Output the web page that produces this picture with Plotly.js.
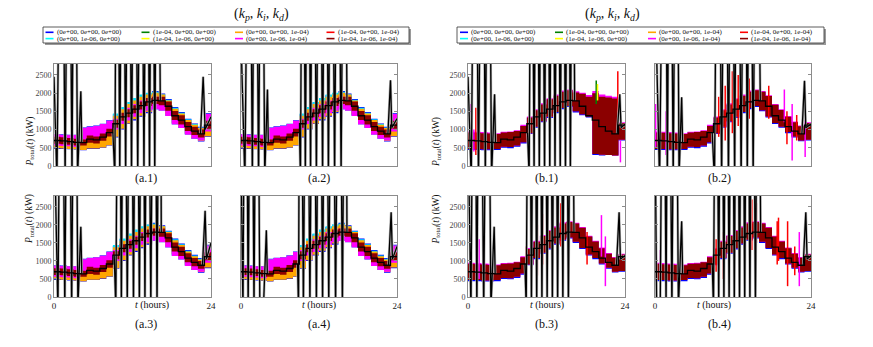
<!DOCTYPE html>
<html>
<head>
<meta charset="utf-8">
<script src="https://cdn.plot.ly/plotly-3.0.1.min.js"></script>
<style>
  html, body { margin: 0; padding: 0; background: #fff; }
  #chart { width: 873px; height: 347px; }
</style>
</head>
<body>
<div id="chart"></div>
<script>
// ---- data (kW, hourly blocks 0..23) ----
const hours = [0,1,2,3,4,5,6,7,8,9,10,11,12,13,14,15,16,17,18,19,20,21,22,23,24];
const refLoad = [700,690,670,650,640,740,715,790,915,1160,1350,1450,1560,1660,1760,1800,1790,1640,1380,1260,1080,960,880,1120];

// (a) panels: envelope of the colored runs
const aBlueLo    = [470,470,460,450,430,470,470,500,560,780,1000,1150,1250,1350,1450,1560,1560,1400,1170,1050,880,750,670,800];
const aBlueHi    = [880,870,860,860,1060,1090,1110,1160,1260,1420,1600,1740,1850,1940,2000,2060,1990,1840,1620,1480,1300,1170,1080,1450];
const aCyanHi    = [870,860,850,850,1050,1080,1100,1150,1250,1440,1620,1760,1870,1960,2010,2040,1970,1820,1600,1460,1280,1150,1060,1430];
const aOrangeLo  = [490,480,470,460,440,480,480,510,570,800,1020,1170,1280,1380,1480,1580,1580,1420,1190,1070,900,770,690,820];
const aOrangeHi  = [860,850,840,830,860,900,890,950,1080,1380,1560,1700,1800,1900,1960,2010,1960,1800,1570,1440,1260,1130,1040,1380];
const aMagentaLo = [560,550,540,520,720,800,780,850,970,1000,1150,1250,1350,1450,1520,1560,1520,1370,1140,1040,860,750,700,950];
const aMagentaHi = [870,860,850,850,1050,1080,1100,1150,1250,1300,1450,1600,1700,1800,1850,1900,1790,1640,1380,1260,1080,960,880,1430];
const aCoreLo    = [610,600,580,560,560,640,620,690,810,1050,1240,1340,1450,1550,1650,1700,1670,1520,1260,1140,960,850,780,1020];
const aCoreHi    = [800,790,770,750,730,840,810,890,1020,1270,1460,1560,1670,1770,1870,1900,1900,1770,1510,1390,1210,1080,1000,1240];

// (b) panels
const bBlueLo    = [440,440,430,430,440,500,490,530,620,880,1050,1200,1320,1450,1560,1620,1500,1330,1150,1050,900,780,680,700];
const bMagentaHi = [950,940,930,920,900,940,950,980,1130,1360,1560,1720,1860,1960,2070,2100,2060,1940,1700,1560,1370,1220,1110,1200];
const bCoreLo    = [470,470,460,460,470,530,520,560,650,900,1080,1230,1350,1480,1590,1650,1530,1360,1180,1080,930,810,700,720];
const bCoreHi    = [920,910,900,890,880,920,930,960,1100,1330,1530,1690,1830,1930,2040,2080,2040,1920,1680,1540,1350,1200,1090,1180];
const b1BlueLo   = [440,440,430,430,440,500,490,530,620,880,1050,1200,1320,1450,1560,1620,1470,1390,1330,300,290,300,290,700];
const b1MagentaHi= [950,940,930,920,900,940,950,980,1130,1360,1560,1720,1860,1960,2070,2100,2050,2010,1950,2060,1960,1930,1900,1200];
const b1CoreLo   = [470,470,460,460,470,530,520,560,650,900,1080,1230,1350,1480,1590,1650,1500,1420,1360,330,310,300,290,720];
const b1CoreHi   = [920,910,900,890,880,920,930,960,1100,1330,1530,1690,1830,1930,2040,2080,2020,1980,1900,2000,1900,1880,1850,1180];

// unstable (oscillating) run in each panel, null = gap
const a1OscT = [0,0.45,1.15,1.7,2.25,2.75,3.15,3.6,4.1,4.25,null,9.0,9.3,9.65,10.05,10.5,10.95,11.4,11.85,12.3,12.8,13.3,13.75,14.2,14.6,15.0,15.4,15.8,16.25,null,22.4,22.8,23.1,24];
const a1OscP = [2450,-400,12000,-400,12000,-400,12000,-300,2050,640,null,915,-300,12000,-300,12000,-300,12000,-300,12000,-300,12000,-300,12000,-300,12000,-300,12000,1790,null,880,2450,1000,1350];
const a2OscT = [0,0.6,1.25,1.75,2.2,2.7,3.2,3.65,4.07,4.2,null,9.0,9.15,9.5,9.9,10.3,10.7,11.1,11.6,12.1,12.55,13.0,13.45,13.9,14.4,14.9,15.4,15.9,16.3,null,22.6,23.0,23.2,24];
const a2OscP = [3500,-400,12000,-400,12000,-400,12000,-300,2100,640,null,915,-300,12000,-300,12000,-300,12000,-300,12000,-300,12000,-300,12000,-300,12000,-300,12000,1790,null,880,2350,1050,1300];
const a3OscT = [0,0.6,1.13,1.65,2.16,2.7,3.2,3.65,4.1,4.25,null,9.2,9.45,9.9,10.3,10.7,11.2,11.7,12.15,12.6,13.05,13.5,13.9,14.3,14.8,15.3,15.75,16.2,16.4,null,22.7,23.1,23.3,24];
const a3OscP = [5000,-400,12000,-400,12000,-400,12000,-300,1950,640,null,1160,-300,12000,-300,12000,-300,12000,-300,12000,-300,12000,-300,12000,-300,12000,-300,12000,1790,null,880,2390,1050,1500];
const a4OscT = [0,0.3,0.7,1.1,1.55,2.0,2.45,2.9,3.45,3.9,4.05,null,8.7,8.85,9.1,9.6,10.1,10.6,11.1,11.6,12.1,12.55,13.0,13.5,14.0,14.55,15.1,15.6,16.1,16.3,null,22.7,23.1,23.3,24];
const a4OscP = [4000,-400,12000,-400,12000,-400,12000,-400,-300,1850,640,null,915,-300,12000,-300,12000,-300,12000,-300,12000,-300,12000,-300,12000,-300,12000,-300,12000,1790,null,880,2350,1050,1400];
const b1OscT = [0,0.5,1.07,1.6,2.2,2.65,3.1,3.6,4.06,4.2,null,9.1,9.35,9.7,10.1,10.5,10.9,11.3,11.7,12.1,12.5,12.9,13.3,13.7,14.1,14.5,14.9,15.3,15.65,16.0,16.3,null,22.8,23.2,23.4,24];
const b1OscP = [2450,-400,12000,-400,12000,-400,12000,-300,1970,640,null,915,-300,12000,-300,12000,-300,12000,-300,12000,-300,12000,-300,12000,-300,12000,-300,12000,-300,12000,1790,null,880,1970,1050,1150];
const b2OscT = [0,0.7,1.5,1.9,2.3,2.8,3.3,3.7,4.1,4.25,null,8.8,9.15,9.7,10.25,10.8,11.3,11.8,12.25,12.7,13.25,13.8,14.2,14.6,15.1,15.6,16.2,null,22.6,23.0,23.2,24];
const b2OscP = [5000,-400,12000,-400,12000,-400,12000,-300,1885,640,null,915,-400,12000,-400,12000,-400,12000,-400,12000,-400,12000,-400,12000,-400,12000,1790,null,880,2340,1050,1150];
const b3OscT = [0,0.45,0.95,1.35,1.8,2.4,3.0,3.5,4.0,4.15,null,8.7,8.9,9.3,9.7,10.1,10.5,10.9,11.3,11.7,12.1,12.5,12.9,13.3,13.7,14.1,14.5,14.9,15.35,15.8,16.2,null,22.7,23.1,23.3,24];
const b3OscP = [5000,-400,12000,-400,12000,-400,12000,-300,1950,640,null,915,-300,12000,-300,12000,-300,12000,-300,12000,-300,12000,-300,12000,-300,12000,-300,12000,-300,12000,1790,null,880,2350,1050,1150];
const b4OscT = [0,0.26,0.8,1.3,1.7,2.06,2.6,3.1,3.6,4.1,4.25,null,8.8,9.0,9.4,9.8,10.2,10.6,11.0,11.4,11.8,12.2,12.6,13.0,13.4,13.8,14.2,14.6,15.0,15.45,15.9,16.25,null,22.8,23.2,23.4,24];
const b4OscP = [5000,-400,-400,12000,-400,12000,-400,12000,-300,2100,640,null,915,-300,12000,-300,12000,-300,12000,-300,12000,-300,12000,-300,12000,-300,12000,-300,12000,-300,12000,1790,null,880,2350,1050,1150];

// isolated spikes of single runs in the (b) panels
const b1SpikeT  = [0.4,0.9,1.2,19.6,19.8,22.9,23.3];
const b1SpikeLo = [500,400,300,1700,1800,900,100];
const b1SpikeHi = [1700,1000,1600,2350,2250,2600,700];
const b1SpikeC  = ['#ff00ff','#ff00ff','#ff0000','#008000','#ffff00','#ff0000','#ff00ff'];
const b2SpikeT  = [0.1,1.7,9.8,10.8,11.9,12.8,14.5,17.5,19.9,20.3,21.1,21.8,23.1];
const b2SpikeLo = [500,300,800,700,900,1100,1300,1300,1200,600,150,700,250];
const b2SpikeHi = [1700,1500,1900,2200,2600,2500,2400,2200,2100,1500,1700,1400,1250];
const b2SpikeC  = ['#ff00ff','#ff00ff','#ff0000','#ff0000','#ff0000','#ff0000','#ff0000','#ff0000','#ff00ff','#ff0000','#ff00ff','#ff0000','#ff00ff'];
const b3SpikeT  = [0.5,1.7,8.9,9.6,10.6,11.4,12.8,14.2,18.2,20.4,21.0];
const b3SpikeLo = [570,500,500,700,600,900,1200,1400,900,1120,300];
const b3SpikeHi = [1770,1600,1400,1800,2000,2300,2500,2600,1800,2270,1680];
const b3SpikeC  = ['#ff00ff','#ff00ff','#ff0000','#ff0000','#ff0000','#ff0000','#ff0000','#ff0000','#ff0000','#ff00ff','#ff00ff'];
const b4SpikeT  = [0.8,9.4,10.5,12.2,13.8,14.9,15.6,18.8,19.0,20.4,21.5,22.2];
const b4SpikeLo = [700,700,500,800,1000,1300,1500,900,1000,300,600,300];
const b4SpikeHi = [1300,1600,1800,2300,2400,2700,2600,2100,2200,2100,1400,1800];
const b4SpikeC  = ['#ff00ff','#ff0000','#ff0000','#ff0000','#ff0000','#ff0000','#ff0000','#ff0000','#ff0000','#ff0000','#ff0000','#ff00ff'];

// legend
const seriesNames  = ['(0e+00, 0e+00, 0e+00)','(1e-04, 0e+00, 0e+00)','(0e+00, 0e+00, 1e-04)','(1e-04, 0e+00, 1e-04)',
                      '(0e+00, 1e-06, 0e+00)','(1e-04, 1e-06, 0e+00)','(0e+00, 1e-06, 1e-04)','(1e-04, 1e-06, 1e-04)'];
const seriesColors = ['#0000ff','#008000','#ffa500','#ff0000','#00ffff','#ffff00','#ff00ff','#8b0000'];

const panelLabels = ['(a.1)','(a.2)','(b.1)','(b.2)','(a.3)','(a.4)','(b.3)','(b.4)'];

// ---- layout geometry (pixels) ----
const W = 873, H = 347;
const FONT = 'Liberation Serif, DejaVu Serif, serif';
const px = v => v / W;
const py = v => 1 - v / H;
const colX = [[54, 211], [241, 397], [468, 625], [655, 811]];
const rowY = [[64, 166], [196, 297]];

const step = v => v.concat([v[v.length - 1]]);

let traces = [];
let layout = {
  width: W, height: H,
  margin: {l: 0, r: 0, t: 0, b: 0},
  paper_bgcolor: '#fff', plot_bgcolor: '#fff',
  showlegend: false,
  font: {family: FONT, color: '#222'},
  shapes: [], annotations: []
};

function band(ax, lo, hi, color) {
  traces.push({x: hours, y: step(lo), xaxis: 'x' + ax, yaxis: 'y' + ax, mode: 'lines',
    line: {width: 0, shape: 'hv'}, hoverinfo: 'skip'});
  traces.push({x: hours, y: step(hi), xaxis: 'x' + ax, yaxis: 'y' + ax, mode: 'lines',
    line: {width: 0, shape: 'hv'}, fill: 'tonexty', fillcolor: color, hoverinfo: 'skip'});
}

function spikes(ax, T, lo, hi, C) {
  for (let i = 0; i < T.length; i++) {
    traces.push({x: [T[i], T[i]], y: [lo[i], hi[i]], xaxis: 'x' + ax, yaxis: 'y' + ax,
      mode: 'lines', line: {color: C[i], width: 1.5}, hoverinfo: 'skip'});
  }
}

function osc(ax, T, P) {
  traces.push({x: T, y: P, xaxis: 'x' + ax, yaxis: 'y' + ax, mode: 'lines',
    line: {color: '#b4b4b4', width: 2.6}, hoverinfo: 'skip'});
  traces.push({x: T, y: P, xaxis: 'x' + ax, yaxis: 'y' + ax, mode: 'lines',
    line: {color: '#000', width: 1.3}, hoverinfo: 'skip'});
}

function ref(ax) {
  traces.push({x: hours, y: step(refLoad), xaxis: 'x' + ax, yaxis: 'y' + ax, mode: 'lines',
    line: {color: '#000', width: 1.3, shape: 'hv'}, hoverinfo: 'skip'});
}

function aPanel(ax, oscT, oscP) {
  band(ax, aBlueLo, aBlueHi, '#0000ff');
  band(ax, aMagentaLo, aCyanHi, '#00e5ff');
  band(ax, aOrangeLo, aOrangeHi, '#ffa500');
  band(ax, aMagentaLo, aMagentaHi, '#ff00ff');
  band(ax, aCoreLo, aCoreHi, '#8b0000');
  osc(ax, oscT, oscP);
  ref(ax);
}

function bPanel(ax, blueLo, magHi, coreLo, coreHi, oscT, oscP, sT, sLo, sHi, sC) {
  band(ax, blueLo, coreHi, '#0000ff');
  band(ax, coreLo, magHi, '#ff00ff');
  band(ax, coreLo, coreHi, '#8b0000');
  spikes(ax, sT, sLo, sHi, sC);
  osc(ax, oscT, oscP);
  ref(ax);
}

aPanel(1, a1OscT, a1OscP);
aPanel(2, a2OscT, a2OscP);
bPanel(3, b1BlueLo, b1MagentaHi, b1CoreLo, b1CoreHi, b1OscT, b1OscP, b1SpikeT, b1SpikeLo, b1SpikeHi, b1SpikeC);
bPanel(4, bBlueLo, bMagentaHi, bCoreLo, bCoreHi, b2OscT, b2OscP, b2SpikeT, b2SpikeLo, b2SpikeHi, b2SpikeC);
aPanel(5, a3OscT, a3OscP);
aPanel(6, a4OscT, a4OscP);
bPanel(7, bBlueLo, bMagentaHi, bCoreLo, bCoreHi, b3OscT, b3OscP, b3SpikeT, b3SpikeLo, b3SpikeHi, b3SpikeC);
bPanel(8, bBlueLo, bMagentaHi, bCoreLo, bCoreHi, b4OscT, b4OscP, b4SpikeT, b4SpikeLo, b4SpikeHi, b4SpikeC);

// axes
for (let i = 0; i < 8; i++) {
  const ax = i + 1, col = i % 4, row = Math.floor(i / 4);
  const cx = colX[col], ry = rowY[row];
  const sfx = ax === 1 ? '' : String(ax);
  const leftOfPair = col === 0 || col === 2;
  layout['xaxis' + sfx] = {
    domain: [px(cx[0]), px(cx[1])], anchor: 'y' + sfx, range: [0, 24],
    showgrid: false, zeroline: false, showline: true, mirror: true,
    linecolor: '#8c8c8c', linewidth: 1,
    ticks: 'inside', ticklen: 3, tickcolor: '#8c8c8c',
    tickvals: [0, 24], showticklabels: row === 1,
    tickfont: {size: 9, family: FONT, color: '#222'}, fixedrange: true
  };
  layout['yaxis' + sfx] = {
    domain: [py(ry[1]), py(ry[0])], anchor: 'x' + sfx, range: [0, 2800],
    showgrid: false, zeroline: false, showline: true, mirror: 'allticks',
    linecolor: '#8c8c8c', linewidth: 1,
    ticks: 'inside', ticklen: 3, tickcolor: '#8c8c8c',
    tickvals: [0, 500, 1000, 1500, 2000, 2500], showticklabels: leftOfPair,
    tickfont: {size: 8, family: FONT, color: '#444'}, fixedrange: true
  };
  // panel label
  layout.annotations.push({xref: 'paper', yref: 'paper', x: px((cx[0] + cx[1]) / 2), y: py(row === 0 ? 178 : 333),
    text: panelLabels[i], showarrow: false, font: {size: 12, family: FONT, color: '#111'}});
  if (row === 1) {
    layout.annotations.push({xref: 'paper', yref: 'paper', x: px((cx[0] + cx[1]) / 2), y: py(313),
      text: '<i>t</i> (hours)', showarrow: false, font: {size: 10, family: FONT, color: '#111'}});
  }
  if (leftOfPair) {
    layout.annotations.push({xref: 'paper', yref: 'paper', x: px(cx[0] - 32), y: py((ry[0] + ry[1]) / 2),
      text: '<i>P</i><sub>total</sub>(<i>t</i>) (kW)', textangle: -90, showarrow: false,
      font: {size: 9.5, family: FONT, color: '#111'}});
  }
}

// titles and hand-built legends
const titleX = [232, 642];
const legBox = [[43, 409], [457, 824]];
const legCols = [[45.5, 141.5, 235, 326.5], [460, 555, 648, 740]];
const legRows = [32.3, 38.6];
for (let g = 0; g < 2; g++) {
  layout.annotations.push({xref: 'paper', yref: 'paper', x: px(titleX[g]), y: py(25),
    yanchor: 'bottom', text: '(<i>k<sub>p</sub></i>, <i>k<sub>i</sub></i>, <i>k<sub>d</sub></i>)', showarrow: false,
    font: {size: 14, family: FONT, color: '#111'}});
  layout.shapes.push({type: 'rect', xref: 'paper', yref: 'paper',
    x0: px(legBox[g][0] + 2), x1: px(legBox[g][1] + 2), y0: py(45), y1: py(29),
    fillcolor: '#9a9a9a', line: {width: 0}, layer: 'below'});
  layout.shapes.push({type: 'rect', xref: 'paper', yref: 'paper',
    x0: px(legBox[g][0]), x1: px(legBox[g][1]), y0: py(43), y1: py(27),
    fillcolor: '#fff', line: {color: '#333', width: 0.8}});
  for (let k = 0; k < 8; k++) {
    const xs = legCols[g][k % 4], ys = legRows[Math.floor(k / 4)];
    layout.shapes.push({type: 'line', xref: 'paper', yref: 'paper',
      x0: px(xs), x1: px(xs + 8), y0: py(ys), y1: py(ys),
      line: {color: seriesColors[k], width: 1.6}});
    layout.annotations.push({xref: 'paper', yref: 'paper', x: px(xs + 9), y: py(ys),
      xanchor: 'left', yanchor: 'middle', text: seriesNames[k], showarrow: false,
      font: {size: 7, family: FONT, color: '#111'}});
  }
}

Plotly.newPlot('chart', traces, layout, {displayModeBar: false, staticPlot: true});
</script>
</body>
</html>
